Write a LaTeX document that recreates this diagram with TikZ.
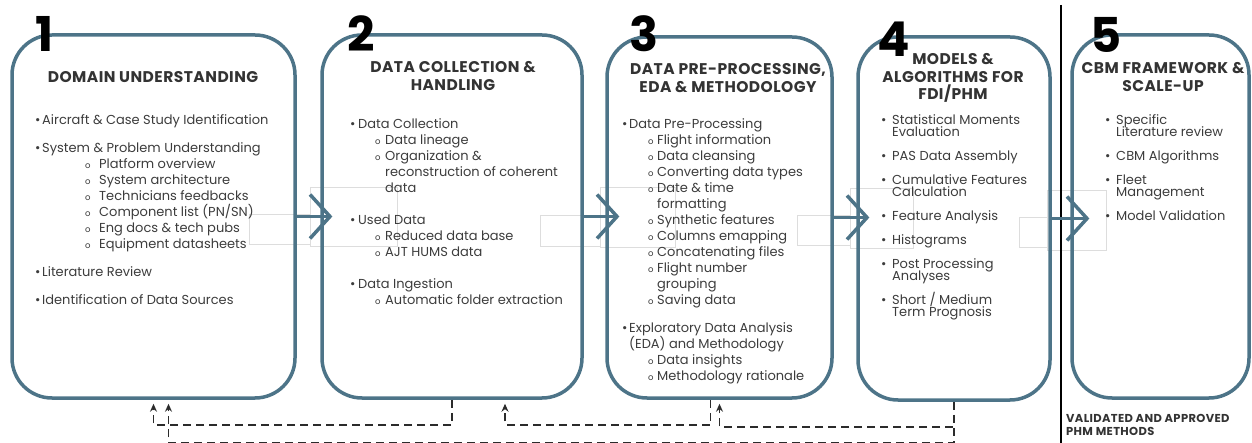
\documentclass[tikz,border=0pt]{standalone}
\usepackage{fontspec}
\setmainfont{Poppins}
\newfontfamily\ttlfam{Poppins}[LetterSpace=3]
\usetikzlibrary{arrows.meta,calc}
\definecolor{boxc}{HTML}{4D7488}
\definecolor{bodyc}{HTML}{3C3C3C}
\definecolor{titlec}{HTML}{333333}
\definecolor{dashc}{HTML}{2B2B2B}
\definecolor{ghost}{HTML}{DDDDDD}
\newcommand\subo{{\fontsize{8.5}{8.5}\selectfont o}}
\newcommand\myB[5]{\node[body] (#1) at (#2,#3) {\makebox[#4pt][l]{\textbullet}#5};}
\newcommand\myS[5]{\node[body] (#1) at (#2,#3) {\makebox[#4pt][l]{\subo}#5};}
\newcommand\myC[4]{\node[body] (#1) at (#2,#3) {#4};}
\tikzset{
  stage/.style={draw=boxc, line width=3.5pt, rounded corners=40pt, inner sep=0pt},
  body/.style={font=\fontsize{13}{13}\selectfont, text=bodyc, inner sep=0pt, anchor=mid west, yshift=-1.5pt},
  ttl/.style={font=\ttlfam\fontsize{15.5}{17.5}\selectfont\bfseries, text=titlec, inner sep=0pt, align=center},
  num/.style={font=\fontsize{48}{48}\selectfont\bfseries, text=black, inner sep=0pt, anchor=base, text depth=0pt},
  flow/.style={draw=boxc, line width=3.5pt},
  chev/.style={draw=boxc, line width=3.5pt, line join=miter},
  fb/.style={draw=dashc, line width=1.8pt, dash pattern=on 8pt off 5pt, -{Stealth[length=8pt,width=7pt]}, shorten >=4pt},
  ghostbox/.style={draw=ghost, line width=0.6pt}
}
\begin{document}
\begin{tikzpicture}[x=1pt,y=-1pt]
\useasboundingbox (0,0) rectangle (1252,443);

% faint artefact rectangles
\draw[ghostbox] (249,214) rectangle (310,244);
\draw[ghostbox] (310,187) rectangle (397,246);
\draw[ghostbox] (540,215) rectangle (600,246);
\draw[ghostbox] (600,187) rectangle (675,247);
\draw[ghostbox] (797,215) rectangle (850,245);
\draw[ghostbox] (850,188) rectangle (913,248);
\draw[ghostbox] (1019,217) rectangle (1047,247);
\draw[ghostbox] (1047,190) rectangle (1106,250);

% stages
\node[stage, minimum width=283pt, minimum height=363pt] (b1) at (153.5,216.5) {};
\node[stage, minimum width=260pt, minimum height=363pt] (b2) at (452,216.5) {};
\node[stage, minimum width=225pt, minimum height=361pt] (b3) at (719.5,217.5) {};
\node[stage, minimum width=192pt, minimum height=363pt] (b4) at (954,218.5) {};
\node[stage, minimum width=177pt, minimum height=363pt] (b5) at (1160.5,216.5) {};

% separator
\coordinate (sepT) at (1061,5);
\coordinate (sepB) at (1061,443);
\draw[line width=1.5pt, black] (sepT) -- (sepB);

% numbers
\node[num] (n1) at (45,52) {1};
\node[num] (n2) at (361,52) {2};
\node[num] (n3) at (644,52) {3};
\node[num] (n4) at (894,57) {4};
\node[num] (n5) at (1106,53) {5};

% forward chevron connectors
\coordinate (t12) at (330,216.5);
\coordinate (t23) at (617,216.5);
\coordinate (t34) at (867,217.5);
\coordinate (t45) at (1087,218.5);
\draw[flow] (b1.east) -- (t12);
\draw[chev] ($(t12)+(-20,-22)$) -- (t12) -- ($(t12)+(-20,22)$);
\draw[flow] (b2.east) -- (t23);
\draw[chev] ($(t23)+(-20,-22)$) -- (t23) -- ($(t23)+(-20,22)$);
\draw[flow] (b3.east) -- (t34);
\draw[chev] ($(t34)+(-20,-22)$) -- (t34) -- ($(t34)+(-20,22)$);
\draw[flow] (b4.east) -- (t45);
\draw[chev] ($(t45)+(-20,-22)$) -- (t45) -- ($(t45)+(-20,22)$);

% feedback dashed connectors
\draw[fb] (b2.south) -- ++(0,25) -| (b1.south);
\draw[fb] (b4.south) -- ++(0,41) -| ([xshift=15pt]b1.south);
\draw[fb] ([xshift=-9pt]b3.south) -- ++(0,25) -| ([xshift=53pt]b2.south);
\draw[fb] (b4.south) -- ++(0,25) -| (b3.south);

% titles
\node[ttl] (h1) at (153,77) {DOMAIN UNDERSTANDING};
\node[ttl] (h2) at (453,76) {DATA COLLECTION \&\\HANDLING};
\node[ttl] (h3) at (728,78) {DATA PRE-PROCESSING,\\EDA \& METHODOLOGY};
\node[ttl] (h4) at (953,78) {MODELS \&\\ALGORITHMS FOR\\FDI/PHM};
\node[ttl] (h5) at (1163,77) {CBM FRAMEWORK \&\\SCALE-UP};

% box 1 text
\myB{a1}{35}{120}{7}{Aircraft \& Case Study Identification}
\myB{a2}{35}{148}{7}{System \& Problem Understanding}
\myS{a3}{85}{164}{14}{Platform overview}
\myS{a4}{85}{180}{14}{System architecture}
\myS{a5}{85}{196}{14}{Technicians feedbacks}
\myS{a6}{85}{212}{14}{Component list (PN/SN)}
\myS{a7}{85}{228}{14}{Eng docs \& tech pubs}
\myS{a8}{85}{244}{14}{Equipment datasheets}
\myB{a9}{35}{272}{7}{Literature Review}
\myB{a10}{35}{300}{7}{Identification of Data Sources}

% box 2 text
\myB{c1}{350}{124}{8}{Data Collection}
\myS{c2}{375}{140}{10}{Data lineage}
\myS{c3}{375}{156}{10}{Organization \&}
\myC{c4}{385}{172}{reconstruction of coherent}
\myC{c5}{385}{188}{data}
\myB{c6}{350}{220}{8}{Used Data}
\myS{c7}{375}{236}{10}{Reduced data base}
\myS{c8}{375}{252}{10}{AJT HUMS data}
\myB{c9}{350}{284}{8}{Data Ingestion}
\myS{c10}{375}{300}{10}{Automatic folder extraction}

% box 3 text
\myB{d1}{622}{124}{7}{Data Pre-Processing}
\myS{d2}{648}{140}{9}{Flight information}
\myS{d3}{648}{156}{9}{Data cleansing}
\myS{d4}{648}{172}{9}{Converting data types}
\myS{d5}{648}{188}{9}{Date \& time}
\myC{d6}{657}{204}{formatting}
\myS{d7}{648}{220}{9}{Synthetic features}
\myS{d8}{648}{236}{9}{Columns emapping}
\myS{d9}{648}{252}{9}{Concatenating files}
\myS{d10}{648}{268}{9}{Flight number}
\myC{d11}{657}{284}{grouping}
\myS{d12}{648}{300}{9}{Saving data}
\myB{d13}{622}{328}{7}{Exploratory Data Analysis}
\myC{d14}{629}{344}{(EDA) and Methodology}
\myS{d15}{648}{360}{9}{Data insights}
\myS{d16}{648}{376}{9}{Methodology rationale}

% box 4 text
\myB{e1}{881}{120}{11}{Statistical Moments}
\myC{e2}{892}{132}{Evaluation}
\myB{e3}{881}{156}{11}{PAS Data Assembly}
\myB{e4}{881}{180}{11}{Cumulative Features}
\myC{e5}{892}{192}{Calculation}
\myB{e6}{881}{216}{11}{Feature Analysis}
\myB{e7}{881}{240}{11}{Histograms}
\myB{e8}{881}{264}{11}{Post Processing}
\myC{e9}{892}{276}{Analyses}
\myB{e10}{881}{300}{11}{Short / Medium}
\myC{e11}{892}{312}{Term Prognosis}

% box 5 text
\myB{f1}{1105}{120}{11}{Specific}
\myC{f2}{1116}{132}{Literature review}
\myB{f3}{1105}{156}{11}{CBM Algorithms}
\myB{f4}{1105}{180}{11}{Fleet}
\myC{f5}{1116}{192}{Management}
\myB{f6}{1105}{216}{11}{Model Validation}

% bottom-right note
\node[font=\ttlfam\fontsize{11.5}{13}\selectfont\bfseries, text=titlec, inner sep=0pt, align=left, anchor=north west] (note) at (1066,414) {VALIDATED AND APPROVED\\PHM METHODS};
\end{tikzpicture}
\end{document}
